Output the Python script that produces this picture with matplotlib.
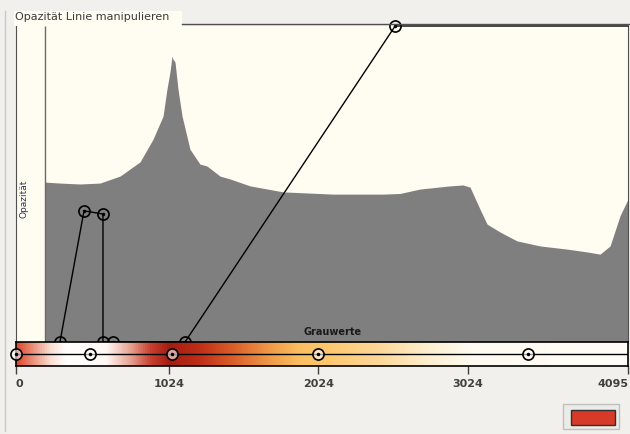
import numpy as np
import matplotlib
matplotlib.use("Agg")
import matplotlib.pyplot as plt
from matplotlib.colors import LinearSegmentedColormap
from matplotlib.lines import Line2D
from matplotlib.patches import Rectangle

W, H = 630, 435

# histogram outline (grey value, relative height)
hist_grey = [194, 294, 428, 562, 696, 830, 917, 984, 1010, 1030, 1044, 1050,
             1064, 1084, 1111, 1164, 1231, 1278, 1365, 1432, 1566, 1787, 2121,
             2456, 2569, 2703, 2904, 2991, 3038, 3105, 3152, 3239, 3352, 3506,
             3687, 3821, 3908, 3975, 4042, 4095]
hist_height = [0.506, 0.503, 0.50, 0.503, 0.525, 0.57, 0.642, 0.715, 0.80,
               0.854, 0.905, 0.895, 0.886, 0.80, 0.715, 0.61, 0.563, 0.557,
               0.525, 0.516, 0.494, 0.475, 0.468, 0.468, 0.47, 0.484, 0.494,
               0.497, 0.49, 0.42, 0.373, 0.348, 0.32, 0.304, 0.294, 0.285,
               0.278, 0.304, 0.40, 0.452]
spike_grey = 194

# opacity transfer line control points
opac_grey = [294, 455, 582, 582, 649, 1131, 2537]
opac_value = [0.0, 0.415, 0.405, 0.0, 0.0, 0.0, 1.0]

# colour control points on the gradient bar
color_grey = [0, 495, 1044, 2021, 3426]

tick_values = [0, 1024, 2024, 3024, 4095]
tick_labels = ["0", "1024", "2024", "3024", "4095"]

grad_pos = [0, 227, 330, 600, 763, 897, 1024, 1231, 1432, 1700, 1900, 2100,
            2435, 2770, 3038, 4095]
grad_col = ["#dc4a2c", "#fbe0d4", "#ffffff", "#fff8f4", "#e8a090", "#c84030",
            "#a41c10", "#c03018", "#d85a28", "#f09a48", "#fbbf60", "#fdc870",
            "#fed898", "#fdf0d0", "#fffbf0", "#fffdf8"]

BG = "#f1f0ec"
CREAM = "#fffdf2"
GREY = "#7f7f7f"


def fx(px):
    return px / W


def fy(py):
    return 1 - py / H


fig = plt.figure(figsize=(W / 100, H / 100), dpi=100, facecolor=BG)

# frame of the group box
fig.add_artist(Line2D([fx(5), fx(5)], [fy(12), fy(432)], color="#c8c8c4", lw=1))
fig.add_artist(Line2D([fx(182), fx(630)], [fy(25), fy(25)], color="#505050", lw=1))
fig.add_artist(Rectangle((fx(14), fy(27)), fx(168), fy(12) - fy(27),
                         transform=fig.transFigure, facecolor=CREAM, lw=0))
fig.text(fx(15), fy(17), "Opazität Linie manipulieren", fontsize=8,
         color="#3a3a3a", va="center", ha="left")

# main opacity/histogram area
ax = fig.add_axes([fx(16), fy(343), fx(612), fy(27) - fy(343)])
ax.set_facecolor(CREAM)
ax.set_xlim(0, 4095)
ax.set_ylim(0, 1)
ax.fill_between(hist_grey, hist_height, 0, color=GREY, lw=0)
ax.vlines(spike_grey, 0, 1, color="#6a6a6a", lw=1)
ax.plot(opac_grey + [4095], opac_value + [1.0], color="black", lw=1,
        clip_on=False, zorder=4)
ax.plot(opac_grey, opac_value, "o", mfc="none", mec="black", ms=8, mew=1.2,
        clip_on=False, zorder=5)
ax.plot(opac_grey, opac_value, ".", color="black", ms=3, clip_on=False, zorder=6)
ax.set_xticks([])
ax.set_yticks([])
ax.spines["top"].set_color("#505050")
ax.spines["right"].set_color("#505050")
ax.spines["left"].set_color("#505050")
ax.spines["bottom"].set_visible(False)
ax.spines["top"].set_visible(False)
ax.text(0.005, 0.455, "Opazität", transform=ax.transAxes, rotation=90,
        fontsize=6.5, color="#303050", ha="left", va="center")
ax.text(2121, 0.035, "Grauwerte", fontsize=7, fontweight="bold",
        color="#1a1a1a", ha="center", va="center")

# gradient bar
cax = fig.add_axes([fx(16), fy(367), fx(612), fy(343) - fy(367)])
cmap = LinearSegmentedColormap.from_list(
    "tf", list(zip(np.array(grad_pos) / 4095, grad_col)))
cax.imshow(np.linspace(0, 1, 1024)[None, :], cmap=cmap, aspect="auto",
           extent=(0, 4095, 0, 1), interpolation="bilinear")
cax.set_xlim(0, 4095)
cax.set_ylim(0, 1)
cax.axhline(0.5, color="black", lw=1)
cax.plot(color_grey, [0.5] * len(color_grey), "o", mfc=(1, 1, 1, 0.6),
         mec="black", ms=8, mew=1.2, clip_on=False, zorder=5)
cax.plot(color_grey, [0.5] * len(color_grey), ".", color="black", ms=3,
         clip_on=False, zorder=6)
for s in cax.spines.values():
    s.set_color("black")
    s.set_linewidth(1.2)
cax.set_yticks([])
cax.set_xticks(tick_values)
cax.set_xticklabels(tick_labels, fontsize=8, fontweight="bold", color="#404040")
cax.tick_params(axis="x", direction="out", length=6, width=1, color="#404040",
                pad=3)
labels = cax.get_xticklabels()
labels[0].set_ha("left")
labels[-1].set_ha("right")

# colour swatch bottom right
fig.add_artist(Rectangle((fx(563), fy(430)), fx(56), fy(405) - fy(430),
                         transform=fig.transFigure, facecolor="#ebebe8",
                         edgecolor="#c0c0bc", lw=1))
fig.add_artist(Rectangle((fx(571), fy(426)), fx(44), fy(411) - fy(426),
                         transform=fig.transFigure, facecolor="#d83a28",
                         edgecolor="#303030", lw=1))

fig.savefig("out.png", dpi=100, facecolor=BG)
